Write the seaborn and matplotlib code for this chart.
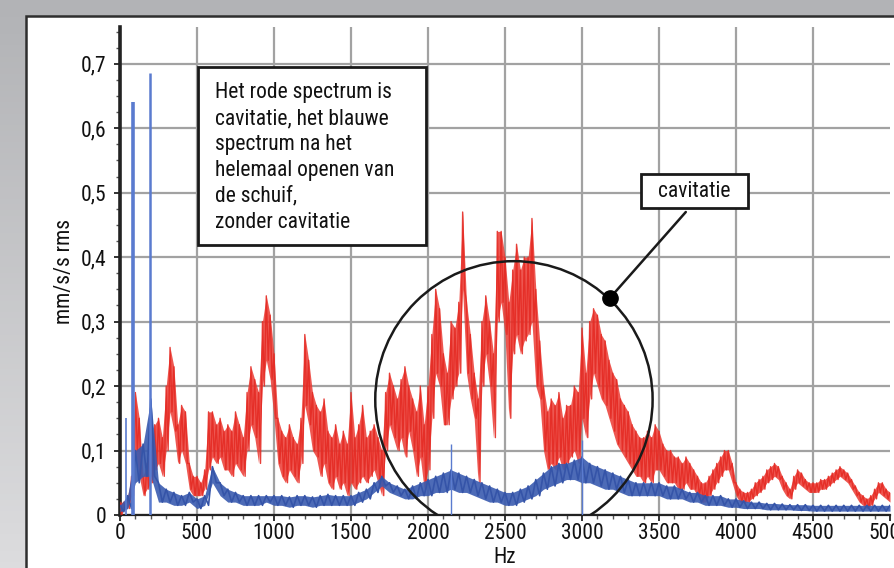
import numpy as np
import pandas as pd
import matplotlib
matplotlib.use("Agg")
import matplotlib.pyplot as plt
import matplotlib.patches as mpatches
from matplotlib import font_manager
from matplotlib.colors import LinearSegmentedColormap
import seaborn as sns

# frequency grids (Hz)
red_step = 25
blue_step = 50

# red spectrum (cavitation): upper / lower edge of the noise band, every 25 Hz
red_hi = [
    0.02, 0.02, 0.03, 0.06, 0.19, 0.15, 0.06, 0.08, 0.11, 0.14, 0.15, 0.12, 0.20, 0.26, 0.23, 0.14, 0.17, 0.16, 0.08, 0.06,
    0.06, 0.05, 0.07, 0.16, 0.16, 0.14, 0.15, 0.13, 0.14, 0.13, 0.16, 0.14, 0.12, 0.19, 0.23, 0.21, 0.19, 0.30, 0.34, 0.31,
    0.25, 0.15, 0.13, 0.12, 0.14, 0.12, 0.11, 0.15, 0.28, 0.24, 0.19, 0.17, 0.16, 0.18, 0.13, 0.12, 0.14, 0.11, 0.13, 0.11,
    0.19, 0.12, 0.14, 0.17, 0.12, 0.13, 0.14, 0.12, 0.10, 0.19, 0.22, 0.20, 0.18, 0.21, 0.23, 0.20, 0.18, 0.16, 0.20, 0.14,
    0.20, 0.28, 0.35, 0.32, 0.25, 0.22, 0.30, 0.29, 0.33, 0.47, 0.33, 0.28, 0.22, 0.18, 0.30, 0.34, 0.30, 0.25, 0.44, 0.44,
    0.40, 0.33, 0.38, 0.42, 0.38, 0.40, 0.40, 0.46, 0.35, 0.27, 0.20, 0.16, 0.18, 0.17, 0.19, 0.15, 0.17, 0.17, 0.20, 0.19,
    0.29, 0.22, 0.30, 0.32, 0.31, 0.28, 0.27, 0.24, 0.22, 0.21, 0.18, 0.17, 0.16, 0.14, 0.13, 0.12, 0.12, 0.13, 0.12, 0.14,
    0.13, 0.11, 0.10, 0.10, 0.09, 0.09, 0.08, 0.09, 0.08, 0.07, 0.06, 0.05, 0.05, 0.06, 0.07, 0.08, 0.09, 0.10, 0.10, 0.08,
    0.05, 0.04, 0.035, 0.035, 0.04, 0.05, 0.055, 0.06, 0.07, 0.075, 0.08, 0.075, 0.06, 0.05, 0.04, 0.06, 0.07, 0.065, 0.055, 0.05,
    0.05, 0.05, 0.055, 0.055, 0.06, 0.065, 0.07, 0.075, 0.07, 0.065, 0.055, 0.045, 0.035, 0.03, 0.025, 0.03, 0.04, 0.05, 0.05, 0.04,
    0.035,
]
red_lo = [
    0.00, 0.01, 0.01, 0.03, 0.10, 0.06, 0.03, 0.04, 0.05, 0.07, 0.08, 0.06, 0.10, 0.16, 0.13, 0.08, 0.10, 0.08, 0.04, 0.03,
    0.03, 0.03, 0.04, 0.07, 0.09, 0.08, 0.09, 0.07, 0.07, 0.06, 0.08, 0.07, 0.06, 0.10, 0.14, 0.12, 0.08, 0.20, 0.24, 0.21,
    0.15, 0.08, 0.06, 0.05, 0.07, 0.06, 0.05, 0.08, 0.17, 0.14, 0.10, 0.09, 0.06, 0.08, 0.05, 0.04, 0.06, 0.04, 0.05, 0.03,
    0.05, 0.04, 0.05, 0.06, 0.05, 0.06, 0.07, 0.05, 0.03, 0.10, 0.14, 0.12, 0.10, 0.12, 0.09, 0.13, 0.10, 0.06, 0.09, 0.04,
    0.07, 0.15, 0.22, 0.20, 0.14, 0.14, 0.18, 0.20, 0.22, 0.35, 0.22, 0.18, 0.15, 0.05, 0.20, 0.25, 0.20, 0.12, 0.30, 0.33,
    0.28, 0.15, 0.25, 0.28, 0.25, 0.27, 0.28, 0.30, 0.20, 0.18, 0.10, 0.07, 0.08, 0.07, 0.09, 0.07, 0.08, 0.09, 0.10, 0.08,
    0.15, 0.12, 0.18, 0.22, 0.20, 0.18, 0.17, 0.15, 0.13, 0.11, 0.10, 0.09, 0.08, 0.07, 0.06, 0.06, 0.05, 0.06, 0.05, 0.07,
    0.07, 0.06, 0.05, 0.05, 0.05, 0.04, 0.04, 0.05, 0.04, 0.04, 0.03, 0.02, 0.02, 0.03, 0.04, 0.05, 0.06, 0.07, 0.07, 0.05,
    0.03, 0.02, 0.02, 0.02, 0.025, 0.03, 0.035, 0.04, 0.05, 0.055, 0.06, 0.055, 0.04, 0.03, 0.025, 0.04, 0.05, 0.045, 0.04, 0.035,
    0.035, 0.035, 0.04, 0.04, 0.045, 0.05, 0.055, 0.06, 0.055, 0.05, 0.04, 0.03, 0.02, 0.015, 0.01, 0.015, 0.025, 0.035, 0.03, 0.025,
    0.02,
]

# blue spectrum (valve fully open): upper / lower edge, every 50 Hz
blue_hi = [
    0.015, 0.03, 0.10, 0.11, 0.18, 0.05, 0.04, 0.035, 0.03, 0.035,
    0.025, 0.03, 0.075, 0.05, 0.04, 0.035, 0.03, 0.03, 0.03, 0.03,
    0.03, 0.03, 0.028, 0.03, 0.03, 0.028, 0.03, 0.032, 0.03, 0.03,
    0.03, 0.035, 0.04, 0.05, 0.06, 0.05, 0.045, 0.04, 0.045, 0.05,
    0.055, 0.06, 0.065, 0.07, 0.065, 0.06, 0.055, 0.05, 0.045, 0.04,
    0.035, 0.035, 0.04, 0.045, 0.055, 0.065, 0.075, 0.08, 0.08, 0.085,
    0.09, 0.08, 0.075, 0.07, 0.065, 0.06, 0.055, 0.05, 0.05, 0.05,
    0.05, 0.045, 0.045, 0.04, 0.035, 0.035, 0.03, 0.03, 0.03, 0.025,
    0.025, 0.022, 0.02, 0.02, 0.018, 0.018, 0.017, 0.016, 0.016, 0.016,
    0.015, 0.015, 0.015, 0.015, 0.015, 0.015, 0.015, 0.015, 0.015, 0.015,
    0.015,
]
blue_lo = [
    0.005, 0.01, 0.05, 0.06, 0.06, 0.02, 0.02, 0.015, 0.015, 0.02,
    0.01, 0.015, 0.05, 0.03, 0.02, 0.02, 0.015, 0.015, 0.015, 0.02,
    0.015, 0.015, 0.012, 0.015, 0.015, 0.012, 0.015, 0.015, 0.015, 0.015,
    0.015, 0.02, 0.025, 0.035, 0.045, 0.035, 0.03, 0.025, 0.025, 0.03,
    0.03, 0.035, 0.035, 0.04, 0.035, 0.035, 0.03, 0.025, 0.02, 0.02,
    0.015, 0.015, 0.02, 0.025, 0.03, 0.04, 0.045, 0.05, 0.055, 0.055,
    0.05, 0.05, 0.045, 0.04, 0.04, 0.035, 0.03, 0.03, 0.03, 0.03,
    0.03, 0.025, 0.025, 0.025, 0.02, 0.02, 0.015, 0.015, 0.015, 0.012,
    0.012, 0.01, 0.01, 0.01, 0.008, 0.008, 0.008, 0.008, 0.007, 0.007,
    0.006, 0.006, 0.006, 0.006, 0.006, 0.006, 0.006, 0.006, 0.006, 0.006,
    0.006,
]

# narrow peaks in the blue spectrum
blue_spike_hz = [40, 85, 195, 2150, 3000]
blue_spike_val = [0.15, 0.64, 0.685, 0.11, 0.116]
blue_spike_lw = [1.2, 2.6, 1.8, 1.0, 1.0]

x_ticks = [0, 500, 1000, 1500, 2000, 2500, 3000, 3500, 4000, 4500, 5000]
y_ticks = [0, 0.1, 0.2, 0.3, 0.4, 0.5, 0.6, 0.7]
y_tick_labels = ["0", "0,1", "0,2", "0,3", "0,4", "0,5", "0,6", "0,7"]

note_text = ("Het rode spectrum is\ncavitatie, het blauwe\nspectrum na het\n"
             "helemaal openen van\nde schuif,\nzonder cavitatie")


def zigzag(hi, lo, step):
    # each bin: top of the band, then bottom of the band half a bin later
    f = np.arange(len(hi)) * step
    x = np.column_stack([f, f + step / 2]).ravel()[:-1]
    y = np.column_stack([hi, lo]).ravel()[:-1]
    return pd.DataFrame({"Hz": x, "val": y})


# pick a narrow sans if one is installed (the original uses a condensed face)
installed = {f.name for f in font_manager.fontManager.ttflist}
font_sizes = {"Liberation Sans Narrow": 16, "Roboto Condensed": 15.5,
              "DejaVu Sans Condensed": 14.5, "Liberation Sans": 14}
font_name = next(n for n in font_sizes if n in installed or n == "Liberation Sans")
fs = font_sizes[font_name]

sns.set_theme(style="white")
plt.rcParams["font.family"] = [font_name, "DejaVu Sans"]

W, H = 894, 568
fig = plt.figure(figsize=(W / 100, H / 100), dpi=100)

# grey gradient background + white panel
bg = fig.add_axes([0, 0, 1, 1], zorder=-10)
bg_cmap = LinearSegmentedColormap.from_list("bg", ["#dcdcde", "#b2b3b6"])
bg.imshow(np.linspace(0, 1, 100)[:, None], cmap=bg_cmap, aspect="auto",
          extent=[0, 1, 0, 1], origin="lower")
bg.axis("off")
bg.add_patch(mpatches.Rectangle((26 / W, -0.05), 1.1, (H - 16) / H + 0.05,
                                facecolor="white", edgecolor="#2e2e2e", lw=1.8,
                                transform=bg.transAxes))

ax = fig.add_axes([120 / W, 53 / H, 770 / W, 488 / H])
ax.set_facecolor("none")

red_f = np.arange(len(red_hi)) * red_step
red_df = zigzag(red_hi, red_lo, red_step)
blue_f = np.arange(len(blue_hi)) * blue_step
blue_df = zigzag(blue_hi, blue_lo, blue_step)

# red: dense noise band with its jagged trace
ax.fill_between(red_f, red_lo, red_hi, color="#eb3a32", alpha=0.85, lw=0, zorder=3)
sns.lineplot(data=red_df, x="Hz", y="val", ax=ax, color="#e52b24", lw=1.0,
             alpha=0.9, estimator=None, sort=False, zorder=3)

# blue: dense band with its trace on top
ax.fill_between(blue_f, blue_lo, blue_hi, color="#3a5bb0", alpha=0.9, lw=0, zorder=4)
sns.lineplot(data=blue_df, x="Hz", y="val", ax=ax, color="#3554a8", lw=1.2,
             estimator=None, sort=False, zorder=4)
ax.vlines(blue_spike_hz, 0, blue_spike_val, color="#5a7bcf", lw=blue_spike_lw, zorder=4)

ax.set_xlim(0, 5000)
ax.set_ylim(0, 0.757)
ax.set_xticks(x_ticks)
ax.set_xticklabels([str(v) for v in x_ticks])
ax.set_yticks(y_ticks)
ax.set_yticklabels(y_tick_labels)
ax.set_xticks(np.arange(0, 5001, 100), minor=True)
ax.set_yticks(np.arange(0, 0.751, 0.025), minor=True)
ax.tick_params(axis="both", which="major", labelsize=fs, colors="#111111",
               length=4, width=1.2, direction="out", bottom=True, left=True)
ax.tick_params(axis="x", which="major", pad=2)
ax.tick_params(axis="y", which="major", pad=6)
ax.tick_params(axis="both", which="minor", length=3, width=1, color="#555555",
               direction="out", bottom=True, left=True)
ax.grid(True, which="major", color="#a2a2a2", lw=1.6)
ax.xaxis.get_gridlines()[-1].set_visible(False)
for side in ["top", "right"]:
    ax.spines[side].set_visible(False)
ax.spines["left"].set_color("#222222")
ax.spines["left"].set_linewidth(2.6)
ax.spines["bottom"].set_color("#222222")
ax.spines["bottom"].set_linewidth(1.6)

ax.set_xlabel("Hz", fontsize=fs, labelpad=2, color="#111111")
ax.set_ylabel("mm/s/s rms", fontsize=fs, labelpad=4, color="#111111")

# circle round the cavitation band and the pointer to the label
ax.add_patch(mpatches.Ellipse((2558, 0.179), 1801, 0.4295, fill=False,
                              edgecolor="#1a1a1a", lw=1.8, zorder=6))
ax.plot([3179, 3674], [0.336, 0.470], color="#1a1a1a", lw=1.8, zorder=6)
ax.plot([3179], [0.336], marker="o", ms=11, color="#000000", zorder=7)

# text boxes
fig.add_artist(mpatches.Rectangle((198 / W, (H - 245) / H), 228 / W, 178 / H,
                                  facecolor="white", edgecolor="#1a1a1a",
                                  lw=2, transform=fig.transFigure, zorder=8))
fig.text(215 / W, (H - 82) / H, note_text, ha="left", va="top", fontsize=fs,
         linespacing=1.31, color="#111111", zorder=9)
fig.add_artist(mpatches.Rectangle((641 / W, (H - 208) / H), 107 / W, 34 / H,
                                  facecolor="white", edgecolor="#1a1a1a",
                                  lw=2, transform=fig.transFigure, zorder=8))
fig.text(694.5 / W, (H - 191) / H, "cavitatie", ha="center", va="center",
         fontsize=fs, color="#111111", zorder=9)

fig.savefig("out.png", dpi=100)
